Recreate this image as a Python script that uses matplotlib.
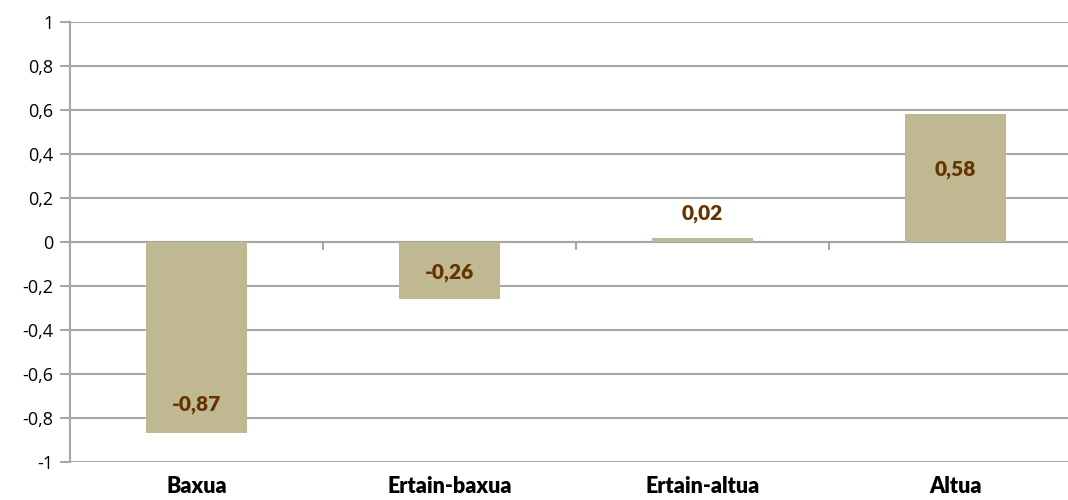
import matplotlib
matplotlib.use('Agg')
import matplotlib.pyplot as plt

# data
categories = ['Baxua', 'Ertain-baxua', 'Ertain-altua', 'Altua']
values = [-0.87, -0.26, 0.02, 0.58]
label_y = [-0.74, -0.14, 0.13, 0.33]
yticks = [-1, -0.8, -0.6, -0.4, -0.2, 0, 0.2, 0.4, 0.6, 0.8, 1]

bar_color = '#C0B891'
label_color = '#663300'
grid_color = '#A6A6A6'

plt.rcParams['font.family'] = ['Open Sans', 'DejaVu Sans']

fig = plt.figure(figsize=(10.68, 5), dpi=100)
ax = fig.add_axes([70 / 1068, 1 - 462 / 500, 1012 / 1068, 440 / 500])

x = list(range(len(categories)))
ax.bar(x, values, width=0.4, color=bar_color, zorder=3)

for xi, v, ly in zip(x, values, label_y):
    ax.text(xi, ly, f'{v:.2f}'.replace('.', ','), ha='center', va='center',
            fontsize=15, fontweight='heavy', color=label_color, zorder=4,
            family=['Lato', 'DejaVu Sans'])

ax.set_xlim(-0.5, 3.5)
ax.set_ylim(-1, 1)

def fmt(t):
    s = f'{t:g}'
    return s.replace('.', ',')

ax.set_yticks(yticks)
ax.set_yticklabels([fmt(t) for t in yticks], fontsize=13)
ax.yaxis.grid(True, color=grid_color, linewidth=1.5, zorder=0)
ax.tick_params(axis='y', length=7, width=1.5, color=grid_color, pad=5)

ax.set_xticks(x)
ax.set_xticklabels(categories, fontsize=15.5, fontweight='heavy',
                   family=['Lato', 'DejaVu Sans'])
ax.tick_params(axis='x', length=0, pad=10)

for side in ['top', 'right', 'bottom']:
    ax.spines[side].set_visible(False)
ax.spines['left'].set_color(grid_color)
ax.spines['left'].set_linewidth(1.5)

# zero axis with category separators (0 sits halfway up the axes)
sec = ax.secondary_xaxis(0.5)
sec.set_alignment('bottom')
sec.set_xticks([0.5, 1.5, 2.5])
sec.set_xticklabels([])
sec.tick_params(length=6, width=1.5, color=grid_color, direction='out')
sec.spines['bottom'].set_color(grid_color)
sec.spines['bottom'].set_linewidth(1.5)

fig.savefig('out.png', dpi=100)
